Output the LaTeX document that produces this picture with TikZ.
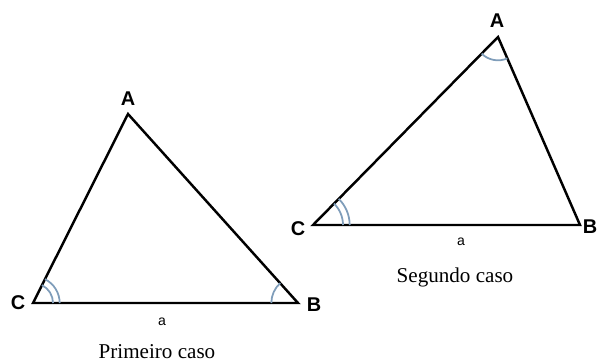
\documentclass[tikz,border=0pt]{standalone}
\usepackage{fontspec}
\setmainfont{Liberation Serif}
\setsansfont{Liberation Sans}
\usetikzlibrary{angles,positioning}
\definecolor{ArcBlue}{HTML}{7F9DBA}

\begin{document}
\begin{tikzpicture}[
    x=0.03cm, y=-0.03cm,
    side/.style={line width=2.1pt, draw=black, line join=miter},
    vlabel/.style={font=\sffamily\bfseries\fontsize{17}{17}\selectfont, inner sep=0pt},
    slabel/.style={font=\sffamily\fontsize{12}{12}\selectfont, inner sep=0pt},
    caption/.style={font=\fontsize{18}{18}\selectfont, inner sep=0pt},
    arcmark/.style={draw=ArcBlue, line width=1.5pt}
  ]
    \useasboundingbox (0,0) rectangle (597,363);

    % Primeiro caso
    \coordinate (A1) at (128,114);
    \coordinate (B1) at (298,303);
    \coordinate (C1) at (33,303);
    \draw[side] (A1) -- (B1) -- (C1) -- cycle;
    \pic[arcmark, angle radius=0.6cm] {angle = B1--C1--A1};
    \pic[arcmark, angle radius=0.8cm] {angle = B1--C1--A1};
    \pic[arcmark, angle radius=0.8cm] {angle = A1--B1--C1};

    \node[vlabel] (labA1) at (128,99) {A};
    \node[vlabel] (labB1) at (314,305) {B};
    \node[vlabel] (labC1) at (18,303) {C};
    \node[slabel] (side1) at (162,322) {a};
    \node[caption] (cap1) at (157,352) {Primeiro caso};

    % Segundo caso
    \coordinate (A2) at (498,37);
    \coordinate (B2) at (580,225);
    \coordinate (C2) at (313,225);
    \draw[side] (A2) -- (B2) -- (C2) -- cycle;
    \pic[arcmark, angle radius=0.9cm] {angle = B2--C2--A2};
    \pic[arcmark, angle radius=1.1cm] {angle = B2--C2--A2};
    \pic[arcmark, angle radius=0.7cm] {angle = C2--A2--B2};

    \node[vlabel] (labA2) at (497,21) {A};
    \node[vlabel] (labB2) at (590,227) {B};
    \node[vlabel] (labC2) at (298,229) {C};
    \node[slabel] (side2) at (461,242) {a};
    \node[caption] (cap2) at (455,277) {Segundo caso};
  \end{tikzpicture}
\end{document}
